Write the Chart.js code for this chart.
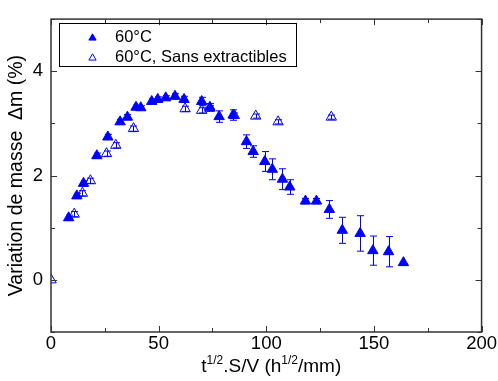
<!DOCTYPE html>
<html>
<head>
<meta charset="utf-8">
<script src="https://cdn.jsdelivr.net/npm/chart.js@4"></script>
<style>
  html, body { margin: 0; padding: 0; background: #fff; }
  canvas { display: block; }
</style>
</head>
<body>
<canvas id="chart" width="498" height="381"></canvas>
<script>
// ---------- Dati ----------
const xFilled = [8.2, 12.0, 15.1, 21.3, 26.4, 32.1, 35.5, 39.5, 41.7, 46.8, 49.6, 53.3, 57.6, 61.8, 70.0, 73.8,
  78.1, 84.6, 90.8, 93.9, 99.3, 102.8, 107.5, 110.9, 118.2, 123.3, 129.3, 135.3, 143.6, 149.5, 156.8, 163.7];
const yFilled = [1.19, 1.61, 1.85, 2.38, 2.74, 3.03, 3.12, 3.31, 3.30, 3.42, 3.46, 3.49, 3.52, 3.46, 3.42, 3.31,
  3.13, 3.16, 2.65, 2.46, 2.27, 2.12, 1.93, 1.78, 1.51, 1.51, 1.35, 0.95, 0.89, 0.56, 0.54, 0.33];
const errFilled = [0.05, 0.05, 0.05, 0.05, 0.05, 0.05, 0.05, 0.04, 0.04, 0.05, 0.05, 0.04, 0.05, 0.06, 0.08, 0.07,
  0.11, 0.10, 0.13, 0.11, 0.19, 0.20, 0.20, 0.14, 0.05, 0.05, 0.17, 0.25, 0.34, 0.28, 0.29, 0];

const xOpen = [0, 10.8, 14.6, 18.3, 25.8, 30.1, 38.3, 62.3, 70.0, 73.8, 85.2, 95.1, 105.5, 130.2];
const yOpen = [0, 1.26, 1.66, 1.90, 2.42, 2.58, 2.90, 3.28, 3.25, 3.29, 3.15, 3.14, 3.03, 3.12];
const errOpen = [0, 0.05, 0.05, 0.05, 0.05, 0.05, 0.05, 0.05, 0.05, 0.05, 0.05, 0.04, 0.04, 0.04];

const labelFilled = "60°C";
const labelOpen = "60°C, Sans extractibles";

const xTickLabels = [0, 50, 100, 150, 200];
const yTickLabels = [0, 2, 4];

const BLUE = "#0000ff";
const FONT = "'Liberation Sans', Arial, sans-serif";

const toPoints = (xs, ys) => xs.map((x, i) => ({ x, y: ys[i] }));

function triangle(ctx, x, y, r) {
  ctx.beginPath();
  ctx.moveTo(x, y - r);
  ctx.lineTo(x + r * Math.cos(Math.PI / 6), y + r * Math.sin(Math.PI / 6));
  ctx.lineTo(x - r * Math.cos(Math.PI / 6), y + r * Math.sin(Math.PI / 6));
  ctx.closePath();
}

// ---------- Plugin: barre d'errore ----------
const errorBars = {
  id: "errorBars",
  beforeDatasetsDraw(chart) {
    const { ctx, scales } = chart;
    ctx.save();
    ctx.strokeStyle = BLUE;
    ctx.lineWidth = 1;
    chart.data.datasets.forEach((ds) => {
      (ds.errors || []).forEach((e, i) => {
        if (!e) return;
        const p = ds.data[i];
        const px = Math.round(scales.x.getPixelForValue(p.x)) + 0.5;
        const y1 = scales.y.getPixelForValue(p.y + e);
        const y2 = scales.y.getPixelForValue(p.y - e);
        ctx.beginPath();
        ctx.moveTo(px, y1); ctx.lineTo(px, y2);
        ctx.moveTo(px - 3.5, y1); ctx.lineTo(px + 3.5, y1);
        ctx.moveTo(px - 3.5, y2); ctx.lineTo(px + 3.5, y2);
        ctx.stroke();
      });
    });
    ctx.restore();
  },
};

// ---------- Plugin: cornice, tacche, legenda, titoli ----------
const frame = {
  id: "frame",
  afterDraw(chart) {
    const { ctx, chartArea: a, scales } = chart;
    ctx.save();
    ctx.strokeStyle = "#333";
    ctx.lineWidth = 1.5;
    ctx.strokeRect(a.left, a.top, a.right - a.left, a.bottom - a.top);

    // tacche interne su tutti i lati
    ctx.lineWidth = 1;
    scales.x.ticks.forEach((t) => {
      const px = Math.round(scales.x.getPixelForValue(t.value)) + 0.5;
      const len = xTickLabels.includes(t.value) ? 6 : 4;
      ctx.beginPath();
      ctx.moveTo(px, a.bottom); ctx.lineTo(px, a.bottom - len);
      ctx.moveTo(px, a.top); ctx.lineTo(px, a.top + len);
      ctx.stroke();
    });
    scales.y.ticks.forEach((t) => {
      const py = Math.round(scales.y.getPixelForValue(t.value)) + 0.5;
      const len = yTickLabels.includes(t.value) ? 6 : 4;
      ctx.beginPath();
      ctx.moveTo(a.left, py); ctx.lineTo(a.left + len, py);
      ctx.moveTo(a.right, py); ctx.lineTo(a.right - len, py);
      ctx.stroke();
    });

    // legenda
    ctx.strokeStyle = "#000";
    ctx.strokeRect(59.5, 23.5, 237, 43);
    chart.data.datasets.forEach((ds, i) => {
      const y = 37 + i * 20;
      ctx.fillStyle = ds.backgroundColor;
      ctx.strokeStyle = BLUE;
      triangle(ctx, 92.5, y + 1, 4.2);
      ctx.fill(); ctx.stroke();
      ctx.fillStyle = "#000";
      ctx.font = `16.5px ${FONT}`;
      ctx.textBaseline = "middle";
      ctx.textAlign = "left";
      ctx.fillText(ds.label, 115, y);
    });

    // titolo asse Y
    ctx.fillStyle = "#000";
    ctx.save();
    ctx.translate(22, (a.top + a.bottom) / 2);
    ctx.rotate(-Math.PI / 2);
    ctx.font = `19.5px ${FONT}`;
    ctx.textAlign = "center";
    ctx.textBaseline = "alphabetic";
    ctx.fillText("Variation de masse  \u0394m (%)", 0, 0);
    ctx.restore();

    // titolo asse X con apici
    const parts = [
      ["t", false], ["1/2", true], [".S/V (h", false], ["1/2", true], ["/mm)", false],
    ];
    const big = `19px ${FONT}`, small = `12px ${FONT}`;
    let w = 0;
    parts.forEach(([s, sup]) => { ctx.font = sup ? small : big; w += ctx.measureText(s).width; });
    let x = (a.left + a.right) / 2 - w / 2 + 5;
    const base = 372;
    ctx.textAlign = "left";
    ctx.textBaseline = "alphabetic";
    parts.forEach(([s, sup]) => {
      ctx.font = sup ? small : big;
      ctx.fillText(s, x, sup ? base - 8 : base);
      x += ctx.measureText(s).width;
    });
    ctx.restore();
  },
};

// ---------- Grafico ----------
new Chart(document.getElementById("chart"), {
  type: "scatter",
  data: {
    datasets: [
      {
        label: labelFilled,
        data: toPoints(xFilled, yFilled),
        errors: errFilled,
        pointStyle: "triangle",
        pointRadius: 6,
        borderWidth: 1,
        borderColor: BLUE,
        backgroundColor: BLUE,
      },
      {
        label: labelOpen,
        data: toPoints(xOpen, yOpen),
        errors: errOpen,
        pointStyle: "triangle",
        pointRadius: 6,
        borderWidth: 1,
        borderColor: BLUE,
        backgroundColor: "rgba(255,255,255,0)",
      },
    ],
  },
  options: {
    responsive: false,
    animation: false,
    layout: { padding: { top: 16, right: 16, left: 0, bottom: 0 } },
    plugins: { legend: { display: false }, tooltip: { enabled: false } },
    scales: {
      x: {
        min: 0, max: 200,
        grid: { display: false, drawTicks: false },
        border: { display: false },
        ticks: {
          stepSize: 25, autoSkip: false, maxRotation: 0, padding: 1,
          color: "#000", font: { family: FONT, size: 18.5 },
          callback: (v) => (xTickLabels.includes(v) ? String(v) : ""),
        },
        afterFit: (s) => { s.height = 49; },
      },
      y: {
        min: -1, max: 5,
        grid: { display: false, drawTicks: false },
        border: { display: false },
        ticks: {
          stepSize: 1, autoSkip: false, padding: 8,
          color: "#000", font: { family: FONT, size: 18.5 },
          callback: (v) => (yTickLabels.includes(v) ? String(v) : ""),
        },
        afterFit: (s) => { s.width = 51; },
      },
    },
  },
  plugins: [errorBars, frame],
});
</script>
</body>
</html>
